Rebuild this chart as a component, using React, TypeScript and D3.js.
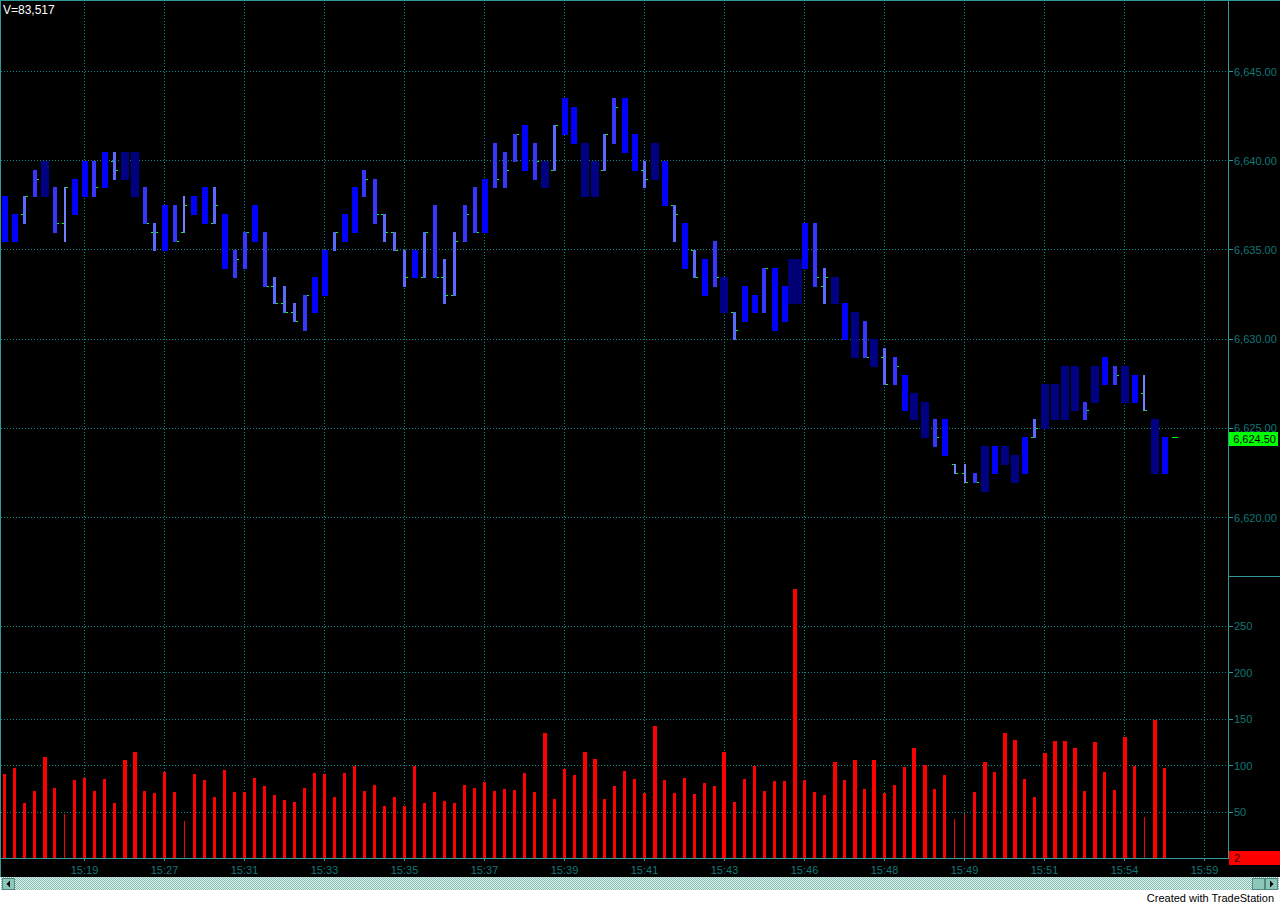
import * as d3 from "d3";

// bar data (one entry per bar)
const highs = [6638, 6637, 6638, 6639.5, 6640, 6638.5, 6638.5, 6639, 6640, 6640,
  6640.5, 6640.5, 6640.5, 6640.5, 6638.5, 6636.5, 6637.5, 6637.5, 6638, 6638,
  6638.5, 6638.5, 6637, 6635, 6636, 6637.5, 6636, 6633.5, 6633, 6632,
  6632.5, 6633.5, 6635, 6636, 6637, 6638.5, 6639.5, 6639, 6637, 6636,
  6635, 6635, 6636, 6637.5, 6634.5, 6636, 6637.5, 6638.5, 6639, 6641,
  6640.5, 6641.5, 6642, 6641, 6640, 6642, 6643.5, 6643, 6641, 6640,
  6641.5, 6643.5, 6643.5, 6641.5, 6640, 6641, 6640, 6637.5, 6636.5, 6635,
  6634.5, 6635.5, 6633.5, 6631.5, 6633, 6632.5, 6634, 6634, 6633, 6634.5,
  6636.5, 6636.5, 6634, 6633.5, 6632, 6631.5, 6631, 6630, 6629.5, 6629,
  6628, 6627, 6626.5, 6625.5, 6625.5, 6623, 6623, 6622.5, 6624, 6624,
  6624, 6623.5, 6624.5, 6625.5, 6627.5, 6627.5, 6628.5, 6628.5, 6626.5, 6628.5,
  6629, 6628.5, 6628.5, 6628, 6628, 6625.5, 6624.5]

const lows = [6635.5, 6635.5, 6636.5, 6638, 6638, 6636, 6635.5, 6637, 6638, 6638,
  6638.5, 6639, 6639, 6638, 6636.5, 6635, 6635, 6635.5, 6636, 6637,
  6636.5, 6636.5, 6634, 6633.5, 6634, 6635.5, 6633, 6632, 6631.5, 6631,
  6630.5, 6631.5, 6632.5, 6635, 6635.5, 6636, 6638, 6636.5, 6635.5, 6635,
  6633, 6633.5, 6633.5, 6633.5, 6632, 6632.5, 6635.5, 6636, 6636, 6638.5,
  6638.5, 6640, 6639.5, 6639, 6638.5, 6639.5, 6641.5, 6641, 6638, 6638,
  6639.5, 6641, 6640.5, 6639.5, 6638.5, 6639, 6637.5, 6635.5, 6634, 6633.5,
  6632.5, 6633, 6631.5, 6630, 6631, 6631.5, 6631.5, 6630.5, 6631, 6632,
  6634, 6633, 6632, 6632, 6630, 6629, 6629, 6628.5, 6627.5, 6627.5,
  6626, 6625.5, 6624.5, 6624, 6623.5, 6622.5, 6622, 6622, 6621.5, 6622.5,
  6623, 6622, 6622.5, 6624.5, 6625, 6625.5, 6625.5, 6626, 6625.5, 6626.5,
  6627.5, 6627.5, 6626.5, 6626.5, 6626, 6622.5, 6622.5]

// open / close ticks, only where they show beside the bar
const n = null
const opens = [n, n, 6637, n, n, n, 6636.5, n, n, n,
  n, 6640, n, n, n, 6636, n, n, 6636, n,
  n, 6636.5, n, n, n, n, n, 6633, 6632, 6631.5,
  n, n, n, n, n, n, n, n, 6637, 6636,
  n, n, 6633.5, n, 6633.5, 6632.5, n, n, n, n,
  n, n, n, n, n, 6639.5, n, n, n, n,
  6639.5, n, n, n, 6639.5, n, n, 6637.5, n, 6635,
  n, n, n, 6631.5, n, n, n, n, n, n,
  n, n, 6633, n, n, n, n, n, 6629, n,
  n, n, n, n, n, 6623, 6622.5, n, n, n,
  n, n, n, 6624.5, n, n, n, n, n, n,
  n, n, n, n, 6627, n, n]

const closes = [n, n, 6638, 6639, n, 6636.5, 6638.5, n, n, 6638.5,
  n, 6639.5, n, n, 6636.5, 6636, n, 6635.5, 6637.5, n,
  n, 6637.5, n, 6634.5, 6636, n, 6633, 6632, 6631.5, 6631,
  6632.5, n, n, 6636, n, n, 6639, 6637, 6636, 6635,
  6633.5, n, 6636, 6633.5, 6632.5, 6635.5, 6637, 6636, n, 6639,
  6639.5, 6641.5, n, 6640, n, 6642, n, n, n, n,
  6641.5, 6643, n, n, 6639, n, n, 6637, n, 6633.5,
  n, 6633.5, n, 6630.5, n, n, 6634, n, n, n,
  n, 6633.5, 6633.5, n, n, n, 6629, n, 6627.5, 6628.5,
  n, n, n, 6624.5, n, 6622.5, 6622, 6622, n, n,
  n, n, n, 6625, n, n, n, n, 6626, n,
  n, 6628, n, n, 6626, n, n]

// paint class of each bar: 0 thin, 1 light, 2 medium, 3 bright, 4 dark, 5 wide dark
const barClass = [3, 3, 1, 2, 4, 2, 0, 3, 3, 2,
  3, 1, 4, 4, 2, 1, 3, 2, 0, 3,
  3, 1, 3, 2, 2, 3, 2, 1, 1, 1,
  2, 3, 3, 1, 3, 3, 2, 2, 1, 1,
  1, 3, 1, 2, 1, 1, 2, 2, 3, 2,
  2, 2, 3, 2, 4, 1, 3, 3, 4, 4,
  1, 2, 3, 3, 1, 4, 3, 1, 3, 1,
  3, 2, 4, 1, 3, 3, 2, 3, 3, 5,
  3, 2, 1, 4, 3, 4, 2, 4, 1, 2,
  3, 4, 4, 2, 3, 0, 0, 2, 4, 3,
  4, 4, 3, 1, 4, 4, 4, 4, 2, 4,
  3, 2, 4, 3, 0, 4, 3]

const volumes = [91, 97, 60, 73, 109, 76, 48, 84, 87, 73,
  85, 60, 106, 114, 73, 70, 93, 71, 40, 91,
  84, 66, 95, 72, 71, 87, 78, 68, 63, 61,
  76, 92, 91, 66, 92, 99, 73, 79, 56, 66,
  56, 100, 60, 72, 62, 60, 79, 76, 82, 73,
  75, 74, 92, 72, 135, 64, 96, 90, 114, 107,
  64, 78, 94, 85, 70, 142, 84, 70, 87, 69,
  81, 78, 114, 61, 86, 99, 73, 83, 83, 290,
  84, 71, 68, 104, 84, 106, 75, 106, 70, 79,
  98, 119, 101, 75, 90, 42, 48, 72, 104, 93,
  135, 127, 85, 66, 113, 126, 126, 119, 73, 125,
  93, 74, 131, 100, 45, 149, 97]

const lastPrice = 6624.5
const lastPriceLabel = "6,624.50"
const priceTicks = [6620, 6625, 6630, 6635, 6640, 6645]
const volumeTicks = [50, 100, 150, 200, 250]
const timeLabels = ["15:19", "15:27", "15:31", "15:33", "15:35", "15:37", "15:39", "15:41",
  "15:43", "15:46", "15:48", "15:49", "15:51", "15:54", "15:59"]
const volumeTitle = "V=83,517"
const volumeCount = "2"

const barColors = ["#7080ff", "#5a6aff", "#3636ff", "#0000ff", "#000082", "#000074"]
const barWidths = [2, 3, 4, 6, 8, 14]
const volWidths = [1, 3, 3, 3, 4, 4]

const grid = "#0a8a8a"
const frame = "#2f9898"
const label = "#127676"
const font = "'Liberation Sans', Arial, sans-serif"

export default function App() {
  const width = 1280
  const height = 906
  const plotRight = 1228
  const baseY = 858
  const blackBottom = 877

  const x: any = d3.scaleLinear([0, 120], [4.5, 1204.5])
  const y: any = d3.scaleLinear([6620, 6645], [517.5, 71.5])
  const yv: any = d3.scaleLinear([0, 250], [858.5, 626])

  const fmt = d3.format(",.2f")
  const px = (v: number) => Math.round(v) + 0.5

  return (
    <svg width={width} height={height} style={{ position: "absolute", left: 0, top: 0, display: "block" }}
      fontFamily={font}>
      <defs>
        <pattern id="dither" width="2" height="2" patternUnits="userSpaceOnUse">
          <rect width="2" height="2" fill="#e4f2ee" />
          <rect width="1" height="1" fill="#7fbdb1" />
          <rect x="1" y="1" width="1" height="1" fill="#7fbdb1" />
        </pattern>
      </defs>
      <rect width={width} height={height} fill="#ffffff" />
      <rect width={width} height={blackBottom} fill="#000000" />

      {/* grid */}
      <g stroke={grid} strokeDasharray="1 2" shapeRendering="crispEdges">
        {timeLabels.map((t, k) => (
          <line key={t + k} x1={px(x(8 * (k + 1)) - 0.5)} x2={px(x(8 * (k + 1)) - 0.5)} y1={0} y2={baseY} />
        ))}
        {priceTicks.map(p => (
          <line key={p} x1={1} x2={plotRight} y1={px(y(p) - 0.5)} y2={px(y(p) - 0.5)} />
        ))}
        {volumeTicks.map(v => (
          <line key={v} x1={1} x2={plotRight} y1={px(yv(v) - 0.5)} y2={px(yv(v) - 0.5)} />
        ))}
      </g>

      {/* volume */}
      <g fill="#ff0000" shapeRendering="crispEdges">
        {volumes.map((v, i) => {
          const w = volWidths[barClass[i]]
          return <rect key={i} x={Math.round(x(i) - w / 2)} y={Math.round(yv(v))} width={w}
            height={baseY - Math.round(yv(v))} />
        })}
      </g>

      {/* open / close ticks */}
      <g fill="#00ff00" shapeRendering="crispEdges">
        {highs.map((h, i) => {
          const w = barWidths[barClass[i]]
          const left = Math.round(x(i) - w / 2)
          return (
            <g key={i}>
              {opens[i] != null && <rect x={left - 2} y={Math.round(y(opens[i]))} width={2} height={1} />}
              {closes[i] != null && <rect x={left + w} y={Math.round(y(closes[i]))} width={2} height={1} />}
            </g>
          )
        })}
        <rect x={Math.round(x(117)) - 3} y={Math.round(y(lastPrice))} width={6} height={1} />
      </g>

      {/* price bars */}
      <g shapeRendering="crispEdges">
        {highs.map((h, i) => {
          const w = barWidths[barClass[i]]
          const top = Math.round(y(h))
          const bottom = Math.round(y(lows[i]))
          return <rect key={i} x={Math.round(x(i) - w / 2)} y={top} width={w}
            height={bottom - top + 1} fill={barColors[barClass[i]]} />
        })}
      </g>

      {/* frame */}
      <g stroke={frame} shapeRendering="crispEdges">
        <line x1={0.5} x2={0.5} y1={0} y2={blackBottom} />
        <line x1={0} x2={width} y1={0.5} y2={0.5} />
        <line x1={plotRight + 0.5} x2={plotRight + 0.5} y1={0} y2={baseY + 1} />
        <line x1={0} x2={plotRight + 1} y1={baseY + 0.5} y2={baseY + 0.5} />
        <line x1={plotRight} x2={width} y1={576.5} y2={576.5} />
        {timeLabels.map((t, k) => (
          <line key={t + k} x1={px(x(8 * (k + 1)) - 0.5)} x2={px(x(8 * (k + 1)) - 0.5)} y1={baseY} y2={baseY + 3} />
        ))}
        {priceTicks.map(p => (
          <line key={p} x1={plotRight + 1} x2={plotRight + 5} y1={px(y(p) - 0.5)} y2={px(y(p) - 0.5)} />
        ))}
        {volumeTicks.map(v => (
          <line key={v} x1={plotRight + 1} x2={plotRight + 5} y1={px(yv(v) - 0.5)} y2={px(yv(v) - 0.5)} />
        ))}
      </g>

      {/* axis labels */}
      <g fill={label} fontSize="11px">
        {priceTicks.map(p => (
          <text key={p} x={plotRight + 6} y={Math.round(y(p)) + 4}>{fmt(p)}</text>
        ))}
        {volumeTicks.map(v => (
          <text key={v} x={plotRight + 6} y={Math.round(yv(v)) + 4}>{v}</text>
        ))}
        {timeLabels.map((t, k) => (
          <text key={t + k} x={x(8 * (k + 1))} y={874} textAnchor="middle">{t}</text>
        ))}
      </g>

      {/* last price marker */}
      <rect x={plotRight + 1} y={432} width={width - plotRight - 3} height={14} fill="#00ff00" />
      <text x={1276} y={443} fontSize="11px" fill="#000000" textAnchor="end">{lastPriceLabel}</text>

      {/* volume marker */}
      <rect x={plotRight + 1} y={851} width={width - plotRight - 1} height={14} fill="#ff0000" />
      <text x={1234} y={862} fontSize="11px" fill="#2a0000">{volumeCount}</text>

      <text x={3} y={14} fontSize="12px" fill="#ffffff">{volumeTitle}</text>

      {/* scroll bar */}
      <rect x={1} y={blackBottom} width={width - 2} height={13} fill="url(#dither)" />
      <g shapeRendering="crispEdges">
        <rect x={2.5} y={878.5} width={12} height={11} fill="#8fc6bc" stroke="#4f8a80" />
        <rect x={1252.5} y={878.5} width={12} height={11} fill="#8fc6bc" stroke="#4f8a80" />
        <rect x={1265.5} y={878.5} width={12} height={11} fill="#8fc6bc" stroke="#4f8a80" />
      </g>
      <path d="M6.5,884 L10,880.5 L10,887.5 Z" fill="#000000" />
      <path d="M273.5,884 L270,880.5 L270,887.5 Z" transform="translate(1000,0)" fill="#000000" />

      <text x={1274} y={902} fontSize="11px" fill="#000000" textAnchor="end">Created with TradeStation</text>
    </svg>
  )
}
